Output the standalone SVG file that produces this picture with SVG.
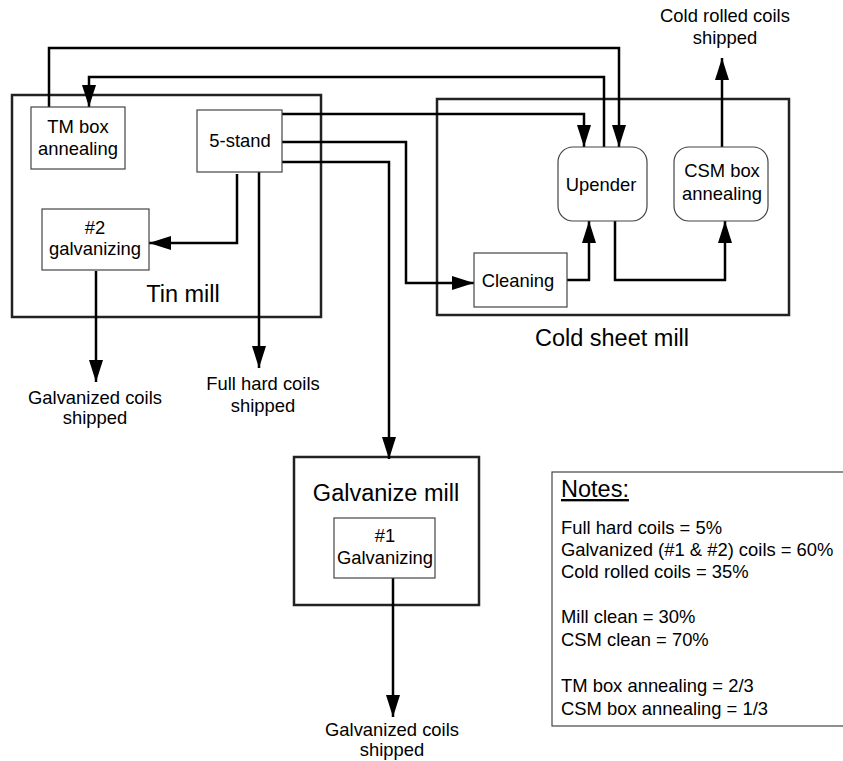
<svg xmlns="http://www.w3.org/2000/svg" width="843" height="761" viewBox="0 0 843 761">
<style>
  text { font-family: "Liberation Sans", Arial, Helvetica, sans-serif; fill: #000; }
  .s { font-size: 18.4px; text-anchor: middle; }
  .l { font-size: 23.5px; text-anchor: middle; }
  .n { font-size: 18.4px; }
  .cont { fill: none; stroke: #222; stroke-width: 2.5; }
  .node { fill: #fff; stroke: #444; stroke-width: 1.2; }
  .conn path { fill: none; stroke: #000; stroke-width: 2.5; }
  .arr { marker-end: url(#ah); }
</style>
<defs>
  <marker id="ah" viewBox="0 0 22 14" refX="22" refY="7" markerWidth="22" markerHeight="14" markerUnits="userSpaceOnUse" orient="auto">
    <path d="M0,0 L22,7 L0,14 z" fill="#000"/>
  </marker>
</defs>
<rect width="843" height="761" fill="#fff"/>

<g id="tin-mill">
  <rect class="cont" x="12" y="95" width="309" height="222"/>
  <text class="l" x="183" y="302">Tin mill</text>
</g>
<g id="cold-sheet-mill">
  <rect class="cont" x="437" y="99" width="352" height="216"/>
  <text class="l" x="612" y="346">Cold sheet mill</text>
</g>
<g id="galvanize-mill">
  <rect class="cont" x="294" y="457" width="185" height="148"/>
  <text class="l" x="386" y="501">Galvanize mill</text>
</g>

<g class="conn" id="connectors">
  <path class="arr" d="M49,107 V48 H619 V147"/>
  <path class="arr" d="M604,147 V77 H89 V107"/>
  <path class="arr" d="M282,114 H584 V147"/>
  <path class="arr" d="M282,142 H406 V283 H474"/>
  <path class="arr" d="M282,162 H389 V459"/>
  <path class="arr" d="M237,174 V243 H149"/>
  <path class="arr" d="M259,172 V368"/>
  <path class="arr" d="M96,271 V382"/>
  <path class="arr" d="M567,280 H589 V221"/>
  <path class="arr" d="M615,221 V280 H725 V221"/>
  <path class="arr" d="M722,147 V58"/>
  <path class="arr" d="M393,578 V717"/>
</g>

<g id="tm-box-annealing">
  <rect class="node" x="31" y="107" width="94" height="62"/>
  <text class="s" x="78" y="133">TM box</text>
  <text class="s" x="78" y="155">annealing</text>
</g>
<g id="five-stand">
  <rect class="node" x="197" y="110" width="85" height="62"/>
  <text class="s" x="240" y="147">5-stand</text>
</g>
<g id="galvanizing-2">
  <rect class="node" x="42" y="209" width="107" height="61"/>
  <text class="s" x="95" y="234">#2</text>
  <text class="s" x="95" y="255">galvanizing</text>
</g>
<g id="upender">
  <rect class="node" x="558" y="147" width="89" height="74" rx="15" ry="15"/>
  <text class="s" x="601" y="191">Upender</text>
</g>
<g id="csm-box-annealing">
  <rect class="node" x="674" y="147" width="94" height="74" rx="15" ry="15"/>
  <text class="s" x="722" y="177">CSM box</text>
  <text class="s" x="722" y="200">annealing</text>
</g>
<g id="cleaning">
  <rect class="node" x="474" y="253" width="93" height="54"/>
  <text class="s" x="518" y="287">Cleaning</text>
</g>
<g id="galvanizing-1">
  <rect class="node" x="334" y="518" width="101" height="60"/>
  <text class="s" x="385" y="542">#1</text>
  <text class="s" x="385" y="564">Galvanizing</text>
</g>

<g id="cold-rolled-shipped">
  <text class="s" x="725" y="22">Cold rolled coils</text>
  <text class="s" x="725" y="44">shipped</text>
</g>
<g id="galv-shipped-left">
  <text class="s" x="95" y="404">Galvanized coils</text>
  <text class="s" x="95" y="424">shipped</text>
</g>
<g id="full-hard-shipped">
  <text class="s" x="263" y="390">Full hard coils</text>
  <text class="s" x="263" y="412">shipped</text>
</g>
<g id="galv-shipped-bottom">
  <text class="s" x="392" y="736">Galvanized coils</text>
  <text class="s" x="392" y="756">shipped</text>
</g>

<g id="notes">
  <rect class="node" x="552" y="472" width="295" height="254" stroke="#222"/>
  <text x="561" y="497" font-size="23.5" text-decoration="underline">Notes:</text>
  <text class="n" x="561" y="534">Full hard coils = 5%</text>
  <text class="n" x="561" y="556">Galvanized (#1 &amp; #2) coils = 60%</text>
  <text class="n" x="561" y="578">Cold rolled coils = 35%</text>
  <text class="n" x="561" y="623">Mill clean = 30%</text>
  <text class="n" x="561" y="646">CSM clean = 70%</text>
  <text class="n" x="561" y="692">TM box annealing = 2/3</text>
  <text class="n" x="561" y="715">CSM box annealing = 1/3</text>
</g>
</svg>
